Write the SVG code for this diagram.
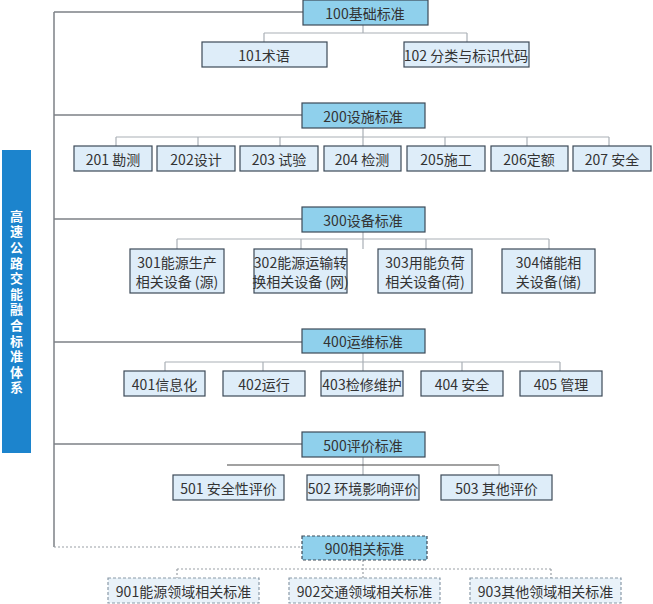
<svg xmlns="http://www.w3.org/2000/svg" width="653" height="604" viewBox="0 0 653 604">
<style>
text{font-family:"Noto Sans CJK SC","Liberation Sans",sans-serif;font-size:14px;fill:#333;text-anchor:middle;dominant-baseline:central}
.hd rect{fill:#8fd0ec;stroke:#3c4a58;stroke-width:1.2}
.ch rect{fill:#deedf9;stroke:#3c4a58;stroke-width:1.2}
.hdd rect{fill:#8fd0ec;stroke:#3c4a58;stroke-width:1.2;stroke-dasharray:3 2}
.chd rect{fill:#e9f2f9;stroke:#8a9aa8;stroke-width:1.2;stroke-dasharray:3 2}
.ln{fill:none;stroke:#aab0b6;stroke-width:1.2}
.main{fill:none;stroke:#7d8186;stroke-width:1.5}
.dk{fill:none;stroke:#444;stroke-width:1.2}
.dot{fill:none;stroke:#9aa0a6;stroke-width:1.2;stroke-dasharray:2 2}
.bar text{fill:#fff;font-weight:bold;font-size:13px;writing-mode:vertical-rl;letter-spacing:2.6px}
</style>
<rect width="653" height="604" fill="#fff"/>
<g id="connectors">
<path class="main" d="M54 12V547M54 12H303M54 115H302M54 219H302M54 342H302M54 444H302"/>
<path class="dot" d="M54 547H302"/>
<path class="ln" d="M363 25V33M264 33H467M264 33V42M467 33V42"/>
<path class="ln" d="M363 128V146M116 137H609M116 137V146M198 137V146M280 137V146M445 137V146M527 137V146M609 137V146"/>
<path class="ln" d="M363 232V249M177 239H549M177 239V249M301 239V249M426 239V249M549 239V249"/>
<path class="ln" d="M363 353V371M165 362H560M165 362V371M263 362V371M462 362V371M560 362V371"/>
<path class="ln" d="M363 457V475"/>
<path class="dk" d="M227 465H499"/>
<path class="ln" d="M499 465V475"/>
<path class="dot" d="M363 560V578M177 569H551M177 569V578M551 569V578"/>
</g>
<g id="bar" class="bar">
<rect x="2" y="150" width="29" height="303" fill="#1c84cd"/>
<text x="16.5" y="303">高速公路交能融合标准体系</text>
</g>
<g id="n100" class="hd"><rect x="303" y="0" width="125" height="25"/><text x="365" y="12.5">100基础标准</text></g>
<g id="n101" class="ch"><rect x="202" y="42" width="125" height="25"/><text x="264" y="54.5">101术语</text></g>
<g id="n102" class="ch"><rect x="404" y="42" width="125" height="25"/><text x="466" y="54.5">102 分类与标识代码</text></g>
<g id="n200" class="hd"><rect x="302" y="103" width="123" height="25"/><text x="363" y="115.5">200设施标准</text></g>
<g id="n201" class="ch"><rect x="74" y="146" width="78" height="25"/><text x="113" y="158.5">201 勘测</text></g>
<g id="n202" class="ch"><rect x="157" y="146" width="78" height="25"/><text x="196" y="158.5">202设计</text></g>
<g id="n203" class="ch"><rect x="240" y="146" width="78" height="25"/><text x="279" y="158.5">203 试验</text></g>
<g id="n204" class="ch"><rect x="324" y="146" width="77" height="25"/><text x="362" y="158.5">204 检测</text></g>
<g id="n205" class="ch"><rect x="407" y="146" width="78" height="25"/><text x="446" y="158.5">205施工</text></g>
<g id="n206" class="ch"><rect x="491" y="146" width="77" height="25"/><text x="529" y="158.5">206定额</text></g>
<g id="n207" class="ch"><rect x="573" y="146" width="78" height="25"/><text x="612" y="158.5">207 安全</text></g>
<g id="n300" class="hd"><rect x="302" y="207" width="123" height="25"/><text x="363" y="219.5">300设备标准</text></g>
<g id="n301" class="ch"><rect x="130" y="249" width="94" height="44"/><text x="177" y="262">301能源生产</text><text x="177" y="281">相关设备 (源)</text></g>
<g id="n302" class="ch"><rect x="254" y="249" width="93" height="44"/><text x="300.5" y="262">302能源运输转</text><text x="300.5" y="281">换相关设备 (网)</text></g>
<g id="n303" class="ch"><rect x="378" y="249" width="94" height="44"/><text x="425" y="262">303用能负荷</text><text x="425" y="281">相关设备(荷)</text></g>
<g id="n304" class="ch"><rect x="502" y="249" width="93" height="44"/><text x="548.5" y="262">304储能相</text><text x="548.5" y="281">关设备(储)</text></g>
<g id="n400" class="hd"><rect x="302" y="329" width="123" height="24"/><text x="363" y="341">400运维标准</text></g>
<g id="n401" class="ch"><rect x="124" y="371" width="81" height="25"/><text x="164.5" y="383.5">401信息化</text></g>
<g id="n402" class="ch"><rect x="223" y="371" width="82" height="25"/><text x="264" y="383.5">402运行</text></g>
<g id="n403" class="ch"><rect x="321" y="371" width="82" height="25"/><text x="362" y="383.5">403检修维护</text></g>
<g id="n404" class="ch"><rect x="421" y="371" width="82" height="25"/><text x="462" y="383.5">404 安全</text></g>
<g id="n405" class="ch"><rect x="520" y="371" width="82" height="25"/><text x="561" y="383.5">405 管理</text></g>
<g id="n500" class="hd"><rect x="302" y="432" width="123" height="25"/><text x="363" y="444.5">500评价标准</text></g>
<g id="n501" class="ch"><rect x="173" y="475" width="111" height="25"/><text x="228.5" y="487.5">501 安全性评价</text></g>
<g id="n502" class="ch"><rect x="307" y="475" width="112" height="25"/><text x="363" y="487.5">502 环境影响评价</text></g>
<g id="n503" class="ch"><rect x="441" y="475" width="111" height="25"/><text x="496.5" y="487.5">503 其他评价</text></g>
<g id="n900" class="hdd"><rect x="302" y="536" width="125" height="24"/><text x="364.5" y="548">900相关标准</text></g>
<g id="n901" class="chd"><rect x="108" y="578" width="151" height="25"/><text x="183.5" y="590.5">901能源领域相关标准</text></g>
<g id="n902" class="chd"><rect x="289" y="578" width="151" height="25"/><text x="364.5" y="590.5">902交通领域相关标准</text></g>
<g id="n903" class="chd"><rect x="470" y="578" width="151" height="25"/><text x="545.5" y="590.5">903其他领域相关标准</text></g>
</svg>
